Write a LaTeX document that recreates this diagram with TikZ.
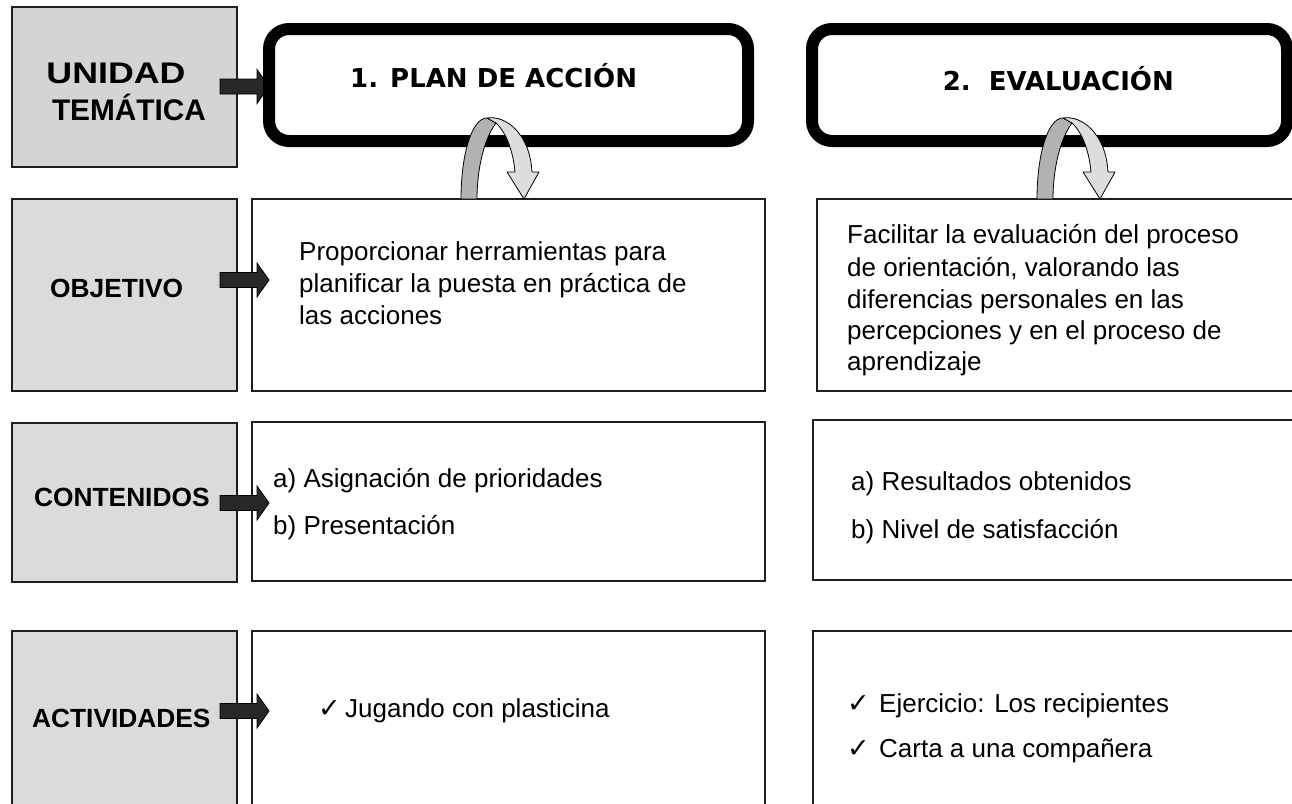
\documentclass[tikz,border=0pt]{standalone}
\usepackage{fontspec}
\usepackage{graphicx}
\setmainfont{Liberation Sans}
\newfontfamily\bodyfont{Liberation Sans}
\newfontfamily\dvfont{DejaVu Sans}
\definecolor{boxgrayA}{RGB}{212,212,212}
\definecolor{boxgray}{RGB}{219,219,219}
\definecolor{arrowdark}{RGB}{40,40,40}
\definecolor{darkband}{RGB}{178,178,178}
\definecolor{lightband}{RGB}{221,221,221}
\definecolor{edge}{RGB}{30,30,30}
\tikzset{
  graybox/.style={draw=edge, line width=1.3pt, fill=boxgray},
  whitebox/.style={draw=edge, line width=1.3pt, fill=white},
  roundbox/.style={draw=black, line width=12pt, rounded corners=20pt},
  blockarrow/.style={fill=arrowdark, draw=black, line width=0.8pt, line join=miter},
  lbl/.style={font=\bfseries\fontsize{26.3}{30}\selectfont, inner sep=0pt, anchor=base west},
  big/.style={font=\bfseries\fontsize{29.8}{37}\selectfont, inner sep=0pt, anchor=base},
  title/.style={font=\dvfont\bfseries\fontsize{26}{30}\selectfont, inner sep=0pt},
  body/.style={font=\bodyfont\fontsize{26}{31}\selectfont, inner sep=0pt, anchor=base west},
  chk/.style={font=\dvfont\fontsize{27}{30}\selectfont, inner sep=0pt, anchor=base west},
  uturn/.pic={
    \draw[fill=darkband, line width=0.8pt, line join=round]
      (-63,0) .. controls (-63,-45) and (-52,-81) .. (-37,-81)
      -- (-28,-76) .. controls (-40,-60) and (-47,-30) .. (-47,0) -- cycle;
    \draw[fill=lightband, line width=0.8pt, line join=round]
      (-37,-81) .. controls (-18,-84) and (6,-65) .. (8,-27)
      -- (15,-27) -- (0,0) -- (-17,-27) -- (-9,-27)
      .. controls (-11,-50) and (-19,-68) .. (-28,-76) -- cycle;
  }
}
\newcommand{\barrow}[1]{%
  \draw[blockarrow] (#1) ++(-37,-7.5) -- ++(37,0) -- ++(0,-9.5) -- ++(12,17)
    -- ++(-12,17) -- ++(0,-9.5) -- ++(-37,0) -- cycle;}
\begin{document}
\begin{tikzpicture}[x=1pt,y=-1pt]
\useasboundingbox (0,0) rectangle (1292,803);
\clip (0,0) rectangle (1292,803);
\fill[white] (0,0) rectangle (1292,803);

% left gray column
\draw[graybox, fill=boxgrayA] (12,7) rectangle (237,167);
\draw[graybox] (12,199) rectangle (237,391);
\draw[graybox] (12,423) rectangle (237,582);
\draw[graybox] (12,631) rectangle (237,812);

% white boxes
\draw[whitebox] (252,199) rectangle (765,391);
\draw[whitebox] (817,199) rectangle (1300,391);
\draw[whitebox] (252,422) rectangle (765,581);
\draw[whitebox] (813,420) rectangle (1300,580);
\draw[whitebox] (252,631) rectangle (765,812);
\draw[whitebox] (813,631) rectangle (1300,812);

% arrow from UNIDAD (under the rounded box)
\coordinate (a0) at (257,86.5);
\barrow{a0}

% rounded title boxes
\draw[roundbox] (269,29) rectangle (748,141);
\draw[roundbox] (812,29) rectangle (1287,141);

% row arrows
\coordinate (a1) at (257,280);
\coordinate (a2) at (257,503);
\coordinate (a3) at (257,711);
\barrow{a1}
\barrow{a2}
\barrow{a3}

% u-turn arrows
\pic at (524,199) {uturn};
\pic at (1100,199) {uturn};

% labels
\node[big] (t1) at (116,83) {\scalebox{1.2}[1]{UNIDAD}};
\node[big] (t2) at (129,120) {TEMÁTICA};
\node[title, anchor=base west] (p1) at (350,87) {1. PLAN DE ACCIÓN};
\node[title, anchor=base east] (p2) at (1174,90) {2.\ \ EVALUACIÓN};
\node[lbl] (l1) at (50,297) {OBJETIVO};
\node[lbl] (l2) at (34,506) {CONTENIDOS};
\node[lbl] (l3) at (32,727) {ACTIVIDADES};

% objective texts
\node[body] (o11) at (299,260) {Proporcionar herramientas para};
\node[body] (o12) at (299,292) {planificar la puesta en práctica de};
\node[body] (o13) at (299,324) {las acciones};
\node[body] (o21) at (847,243) {Facilitar la evaluación del proceso};
\node[body] (o22) at (847,276) {de orientación, valorando las};
\node[body] (o23) at (847,308) {diferencias personales en las};
\node[body] (o24) at (847,339) {percepciones y en el proceso de};
\node[body] (o25) at (847,370) {aprendizaje};

% contents
\node[body] (c11) at (273,487) {a) Asignación de prioridades};
\node[body] (c12) at (273,534) {b) Presentación};
\node[body] (c21) at (851,490) {a) Resultados obtenidos};
\node[body] (c22) at (851,538) {b) Nivel de satisfacción};

% activities
\node[chk] (k11) at (318,717) {✓};
\node[body] (v11) at (345,717) {Jugando con plasticina};
\node[chk] (k21) at (847,712) {✓};
\node[body] (v21) at (879,712) {Ejercicio: Los recipientes};
\node[chk] (k22) at (847,757) {✓};
\node[body] (v22) at (879,757) {Carta a una compañera};
\end{tikzpicture}
\end{document}
